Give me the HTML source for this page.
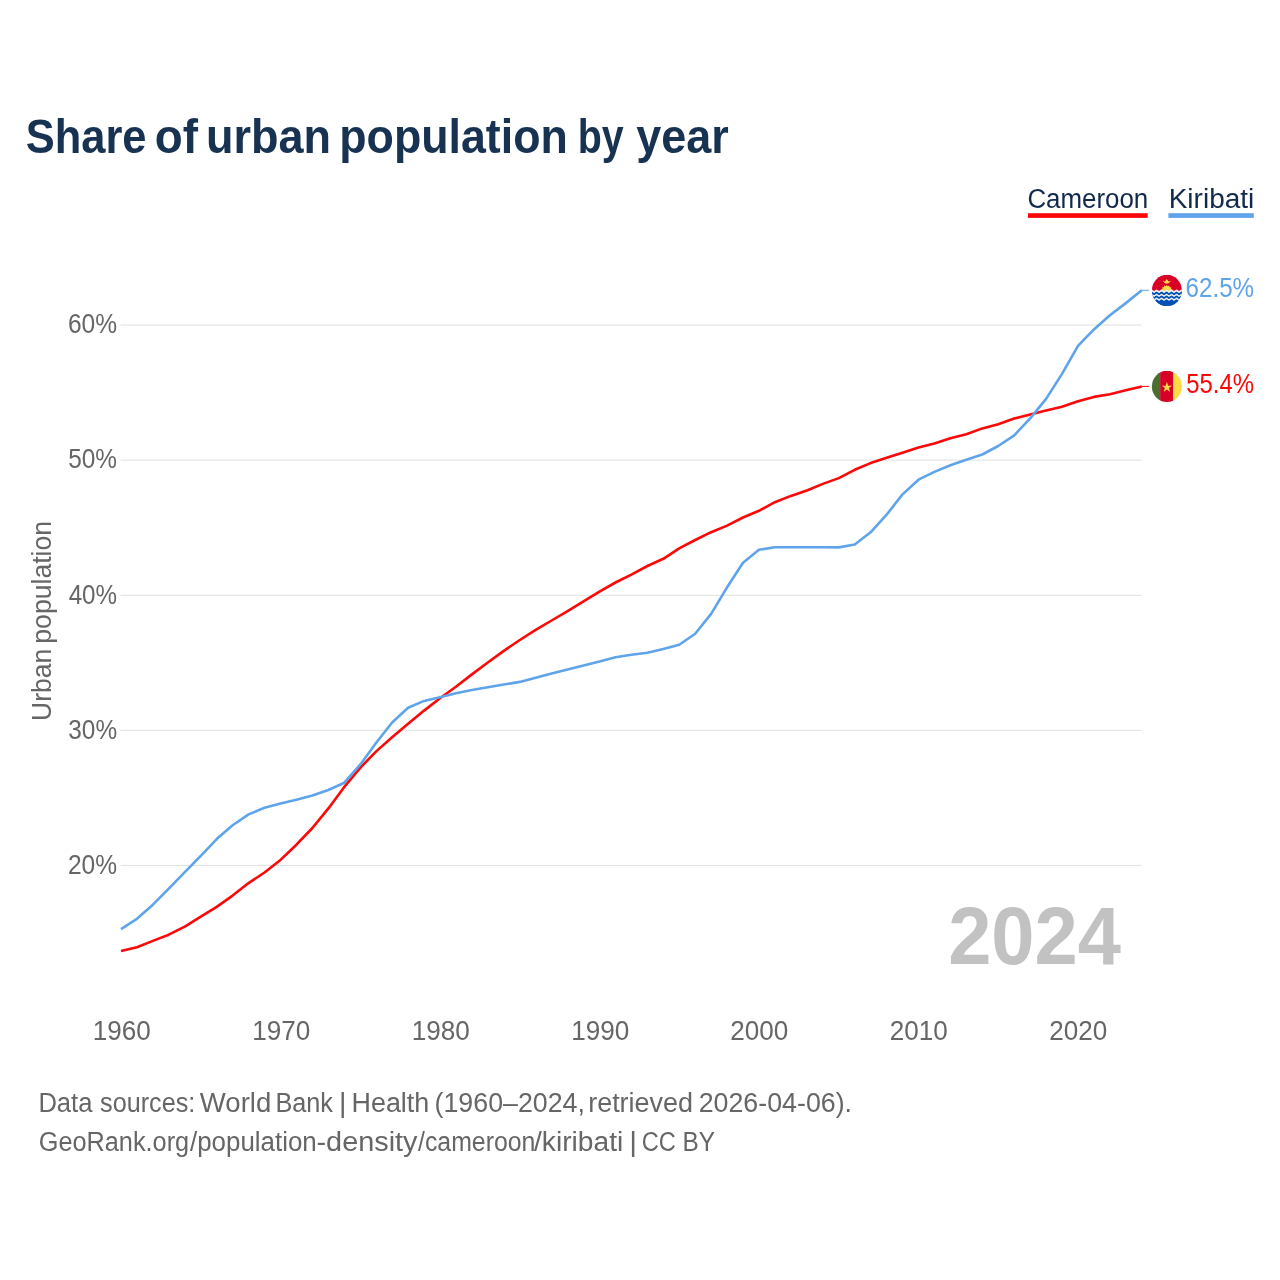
<!DOCTYPE html>
<html lang="en">
<head>
<meta charset="utf-8">
<title>Share of urban population by year</title>
<style>
html,body{margin:0;padding:0;background:#fff;}
body{width:1280px;height:1280px;overflow:hidden;}
svg{display:block;font-family:"Liberation Sans",sans-serif;}
</style>
</head>
<body>
<svg width="1280" height="1280" viewBox="0 0 1280 1280">
<rect width="1280" height="1280" fill="#fff"/>
<text font-size="48" font-weight="bold" fill="#183252"><tspan x="25.70" y="153.00" textLength="120.80" lengthAdjust="spacingAndGlyphs">Share</tspan> <tspan x="154.77" y="153.00" textLength="43.18" lengthAdjust="spacingAndGlyphs">of</tspan> <tspan x="205.94" y="153.00" textLength="125.00" lengthAdjust="spacingAndGlyphs">urban</tspan> <tspan x="339.29" y="153.00" textLength="228.50" lengthAdjust="spacingAndGlyphs">population</tspan> <tspan x="577.74" y="153.00" textLength="45.94" lengthAdjust="spacingAndGlyphs">by</tspan> <tspan x="636.26" y="153.00" textLength="92.52" lengthAdjust="spacingAndGlyphs">year</tspan></text>
<text font-size="27" fill="#112a4c"><tspan x="1027.41" y="208.00" textLength="120.85" lengthAdjust="spacingAndGlyphs">Cameroon</tspan></text>
<rect x="1028" y="213.2" width="119.7" height="4.7" fill="#fb0808"/>
<text font-size="27" fill="#112a4c"><tspan x="1168.69" y="208.00" textLength="85.58" lengthAdjust="spacingAndGlyphs">Kiribati</tspan></text>
<rect x="1168.4" y="213.2" width="85.4" height="4.7" fill="#5fa4ea"/>
<line x1="120.5" x2="1141.5" y1="325.0" y2="325.0" stroke="#e0e0e0" stroke-width="1"/>
<line x1="120.5" x2="1141.5" y1="460.1" y2="460.1" stroke="#e0e0e0" stroke-width="1"/>
<line x1="120.5" x2="1141.5" y1="595.3" y2="595.3" stroke="#e0e0e0" stroke-width="1"/>
<line x1="120.5" x2="1141.5" y1="730.3" y2="730.3" stroke="#e0e0e0" stroke-width="1"/>
<line x1="120.5" x2="1141.5" y1="865.4" y2="865.4" stroke="#e0e0e0" stroke-width="1"/>
<text font-size="27" fill="#666666"><tspan x="67.97" y="333.00" textLength="49.12" lengthAdjust="spacingAndGlyphs">60%</tspan></text>
<text font-size="27" fill="#666666"><tspan x="68.22" y="468.25" textLength="48.87" lengthAdjust="spacingAndGlyphs">50%</tspan></text>
<text font-size="27" fill="#666666"><tspan x="68.66" y="603.50" textLength="48.43" lengthAdjust="spacingAndGlyphs">40%</tspan></text>
<text font-size="27" fill="#666666"><tspan x="68.29" y="738.75" textLength="48.81" lengthAdjust="spacingAndGlyphs">30%</tspan></text>
<text font-size="27" fill="#666666"><tspan x="67.97" y="874.00" textLength="49.12" lengthAdjust="spacingAndGlyphs">20%</tspan></text>
<text font-size="27" fill="#666666"><tspan x="92.64" y="1040.00" textLength="58.09" lengthAdjust="spacingAndGlyphs">1960</tspan></text>
<text font-size="27" fill="#666666"><tspan x="252.14" y="1040.00" textLength="58.09" lengthAdjust="spacingAndGlyphs">1970</tspan></text>
<text font-size="27" fill="#666666"><tspan x="411.64" y="1040.00" textLength="58.09" lengthAdjust="spacingAndGlyphs">1980</tspan></text>
<text font-size="27" fill="#666666"><tspan x="571.14" y="1040.00" textLength="58.09" lengthAdjust="spacingAndGlyphs">1990</tspan></text>
<text font-size="27" fill="#666666"><tspan x="730.30" y="1040.00" textLength="58.04" lengthAdjust="spacingAndGlyphs">2000</tspan></text>
<text font-size="27" fill="#666666"><tspan x="889.80" y="1040.00" textLength="58.04" lengthAdjust="spacingAndGlyphs">2010</tspan></text>
<text font-size="27" fill="#666666"><tspan x="1049.30" y="1040.00" textLength="58.04" lengthAdjust="spacingAndGlyphs">2020</tspan></text>
<text font-size="27" fill="#666666" transform="translate(50.8,719.2) rotate(-90)"><tspan x="-1.75" y="0.00" textLength="72.11" lengthAdjust="spacingAndGlyphs">Urban</tspan> <tspan x="75.47" y="0.00" textLength="122.87" lengthAdjust="spacingAndGlyphs">population</tspan></text>
<text font-size="81" font-weight="bold" fill="#c2c2c2"><tspan x="948.18" y="963.70" textLength="172.78" lengthAdjust="spacingAndGlyphs">2024</tspan></text>
<polyline fill="none" stroke="#fb0808" stroke-width="2.6" stroke-linejoin="round" points="121.0,950.9 136.9,947.2 152.9,940.9 168.8,934.7 184.8,926.6 200.8,916.7 216.7,906.9 232.6,895.6 248.6,883.1 264.5,872.5 280.5,859.9 296.4,844.7 312.4,828.0 328.4,808.4 344.3,786.9 360.2,767.8 376.2,751.4 392.1,737.3 408.1,723.8 424.1,710.6 440.0,698.2 455.9,686.7 471.9,674.4 487.8,662.5 503.8,650.9 519.8,640.0 535.7,629.8 551.6,620.5 567.6,611.1 583.5,601.4 599.5,591.6 615.5,582.5 631.4,574.7 647.4,566.0 663.3,558.8 679.2,548.3 695.2,540.0 711.1,532.2 727.1,525.6 743.0,517.5 759.0,510.8 774.9,502.2 790.9,495.9 806.9,490.5 822.8,483.9 838.8,478.1 854.7,469.8 870.6,463.1 886.6,457.8 902.5,452.7 918.5,447.5 934.4,443.6 950.4,438.3 966.3,434.2 982.3,428.4 998.2,424.2 1014.2,418.6 1030.2,414.5 1046.1,410.6 1062.0,406.7 1078.0,401.3 1093.9,396.9 1109.9,394.2 1125.8,390.3 1141.8,386.4"/>
<polyline fill="none" stroke="#5fa4ea" stroke-width="2.6" stroke-linejoin="round" points="121.0,929.2 136.9,918.8 152.9,904.7 168.8,888.6 184.8,872.2 200.8,855.8 216.7,839.1 232.6,825.3 248.6,814.4 264.5,807.8 280.5,803.6 296.4,799.7 312.4,795.6 328.4,790.0 344.3,782.7 360.2,764.7 376.2,742.8 392.1,722.5 408.1,707.7 424.1,700.9 440.0,697.2 455.9,693.3 471.9,690.1 487.8,687.2 503.8,684.5 519.8,681.9 535.7,677.8 551.6,673.6 567.6,669.4 583.5,665.5 599.5,661.6 615.5,657.2 631.4,654.8 647.4,652.8 663.3,649.1 679.2,644.7 695.2,633.8 711.1,613.9 727.1,587.3 743.0,562.8 759.0,549.8 774.9,547.2 790.9,547.2 806.9,547.2 822.8,547.3 838.8,547.4 854.7,544.5 870.6,532.3 886.6,514.7 902.5,494.4 918.5,479.7 934.4,471.9 950.4,465.2 966.3,459.7 982.3,454.5 998.2,446.0 1014.2,435.3 1030.2,418.4 1046.1,398.9 1062.0,373.9 1078.0,345.8 1093.9,329.4 1109.9,315.3 1125.8,303.1 1141.8,290.3"/>
<line x1="1141.5" x2="1149" y1="290.3" y2="290.3" stroke="#5fa4ea" stroke-width="1"/>
<line x1="1141.5" x2="1149" y1="386.4" y2="386.4" stroke="#fb0808" stroke-width="1"/>
<g transform="translate(1151.90,274.85) scale(0.05859,0.06094)"><clipPath id="kc"><circle cx="256" cy="256" r="256"/></clipPath><g clip-path="url(#kc)"><rect y="280" width="512" height="232" fill="#0052b4"/><rect width="512" height="280" fill="#d80027"/><path fill="#ffda44" d="M253.0 166.0 L270.8 188.0 L296.4 175.9 L302.9 203.5 L331.2 203.7 L325.1 231.3 L350.5 243.7 L333.0 266.0 L350.5 288.3 L325.1 300.7 L331.2 328.3 L302.9 328.5 L296.4 356.1 L270.8 344.0 L253.0 366.0 L235.2 344.0 L209.6 356.1 L203.1 328.5 L174.8 328.3 L180.9 300.7 L155.5 288.3 L173.0 266.0 L155.5 243.7 L180.9 231.3 L174.8 203.7 L203.1 203.5 L209.6 175.9 L235.2 188.0Z"/><path fill="#ffda44" d="M186 96l38 12 12-14 18-24 18 24 12 14 42-12-26 28-24 18h-44l-24-18z"/><path fill="#f0f0f0" d="M-20 246.4 L-16 243.9 L-12 242.1 L-8 241.1 L-4 241.1 L0 242.0 L4 243.8 L8 246.3 L12 249.3 L16 252.5 L20 255.6 L24 258.5 L28 260.8 L32 262.3 L36 263.0 L40 262.7 L44 261.5 L48 259.4 L52 256.8 L56 253.7 L60 250.4 L64 247.4 L68 244.7 L72 242.6 L76 241.3 L80 241.0 L84 241.6 L88 243.1 L92 245.4 L96 248.2 L100 251.4 L104 254.6 L108 257.6 L112 260.1 L116 261.9 L120 262.9 L124 262.9 L128 262.0 L132 260.2 L136 257.7 L140 254.7 L144 251.5 L148 248.3 L152 245.5 L156 243.2 L160 241.7 L164 241.0 L168 241.3 L172 242.6 L176 244.6 L180 247.3 L184 250.4 L188 253.6 L192 256.7 L196 259.4 L200 261.4 L204 262.7 L208 263.0 L212 262.4 L216 260.8 L220 258.6 L224 255.7 L228 252.5 L232 249.3 L236 246.3 L240 243.9 L244 242.1 L248 241.1 L252 241.1 L256 242.1 L260 243.9 L264 246.3 L268 249.3 L272 252.5 L276 255.7 L280 258.6 L284 260.8 L288 262.4 L292 263.0 L296 262.7 L300 261.4 L304 259.4 L308 256.7 L312 253.6 L316 250.4 L320 247.3 L324 244.6 L328 242.6 L332 241.3 L336 241.0 L340 241.7 L344 243.2 L348 245.5 L352 248.3 L356 251.5 L360 254.7 L364 257.7 L368 260.2 L372 262.0 L376 262.9 L380 262.9 L384 261.9 L388 260.1 L392 257.6 L396 254.6 L400 251.4 L404 248.2 L408 245.4 L412 243.1 L416 241.6 L420 241.0 L424 241.3 L428 242.6 L432 244.7 L436 247.4 L440 250.4 L444 253.7 L448 256.8 L452 259.4 L456 261.5 L460 262.7 L464 263.0 L468 262.3 L472 260.8 L476 258.5 L480 255.6 L484 252.5 L488 249.3 L492 246.3 L496 243.8 L500 242.0 L504 241.1 L508 241.1 L512 242.1 L516 243.9 L520 246.4 L524 249.4 L528 252.6 L532 255.8 L532 303.8 L528 300.6 L524 297.4 L520 294.4 L516 291.9 L512 290.1 L508 289.1 L504 289.1 L500 290.0 L496 291.8 L492 294.3 L488 297.3 L484 300.5 L480 303.6 L476 306.5 L472 308.8 L468 310.3 L464 311.0 L460 310.7 L456 309.5 L452 307.4 L448 304.8 L444 301.7 L440 298.4 L436 295.4 L432 292.7 L428 290.6 L424 289.3 L420 289.0 L416 289.6 L412 291.1 L408 293.4 L404 296.2 L400 299.4 L396 302.6 L392 305.6 L388 308.1 L384 309.9 L380 310.9 L376 310.9 L372 310.0 L368 308.2 L364 305.7 L360 302.7 L356 299.5 L352 296.3 L348 293.5 L344 291.2 L340 289.7 L336 289.0 L332 289.3 L328 290.6 L324 292.6 L320 295.3 L316 298.4 L312 301.6 L308 304.7 L304 307.4 L300 309.4 L296 310.7 L292 311.0 L288 310.4 L284 308.8 L280 306.6 L276 303.7 L272 300.5 L268 297.3 L264 294.3 L260 291.9 L256 290.1 L252 289.1 L248 289.1 L244 290.1 L240 291.9 L236 294.3 L232 297.3 L228 300.5 L224 303.7 L220 306.6 L216 308.8 L212 310.4 L208 311.0 L204 310.7 L200 309.4 L196 307.4 L192 304.7 L188 301.6 L184 298.4 L180 295.3 L176 292.6 L172 290.6 L168 289.3 L164 289.0 L160 289.7 L156 291.2 L152 293.5 L148 296.3 L144 299.5 L140 302.7 L136 305.7 L132 308.2 L128 310.0 L124 310.9 L120 310.9 L116 309.9 L112 308.1 L108 305.6 L104 302.6 L100 299.4 L96 296.2 L92 293.4 L88 291.1 L84 289.6 L80 289.0 L76 289.3 L72 290.6 L68 292.7 L64 295.4 L60 298.4 L56 301.7 L52 304.8 L48 307.4 L44 309.5 L40 310.7 L36 311.0 L32 310.3 L28 308.8 L24 306.5 L20 303.6 L16 300.5 L12 297.3 L8 294.3 L4 291.8 L0 290.0 L-4 289.1 L-8 289.1 L-12 290.1 L-16 291.9 L-20 294.4Z"/><path fill="#f0f0f0" d="M-20 304.4 L-16 301.9 L-12 300.1 L-8 299.1 L-4 299.1 L0 300.0 L4 301.8 L8 304.3 L12 307.3 L16 310.5 L20 313.6 L24 316.5 L28 318.8 L32 320.3 L36 321.0 L40 320.7 L44 319.5 L48 317.4 L52 314.8 L56 311.7 L60 308.4 L64 305.4 L68 302.7 L72 300.6 L76 299.3 L80 299.0 L84 299.6 L88 301.1 L92 303.4 L96 306.2 L100 309.4 L104 312.6 L108 315.6 L112 318.1 L116 319.9 L120 320.9 L124 320.9 L128 320.0 L132 318.2 L136 315.7 L140 312.7 L144 309.5 L148 306.3 L152 303.5 L156 301.2 L160 299.7 L164 299.0 L168 299.3 L172 300.6 L176 302.6 L180 305.3 L184 308.4 L188 311.6 L192 314.7 L196 317.4 L200 319.4 L204 320.7 L208 321.0 L212 320.4 L216 318.8 L220 316.6 L224 313.7 L228 310.5 L232 307.3 L236 304.3 L240 301.9 L244 300.1 L248 299.1 L252 299.1 L256 300.1 L260 301.9 L264 304.3 L268 307.3 L272 310.5 L276 313.7 L280 316.6 L284 318.8 L288 320.4 L292 321.0 L296 320.7 L300 319.4 L304 317.4 L308 314.7 L312 311.6 L316 308.4 L320 305.3 L324 302.6 L328 300.6 L332 299.3 L336 299.0 L340 299.7 L344 301.2 L348 303.5 L352 306.3 L356 309.5 L360 312.7 L364 315.7 L368 318.2 L372 320.0 L376 320.9 L380 320.9 L384 319.9 L388 318.1 L392 315.6 L396 312.6 L400 309.4 L404 306.2 L408 303.4 L412 301.1 L416 299.6 L420 299.0 L424 299.3 L428 300.6 L432 302.7 L436 305.4 L440 308.4 L444 311.7 L448 314.8 L452 317.4 L456 319.5 L460 320.7 L464 321.0 L468 320.3 L472 318.8 L476 316.5 L480 313.6 L484 310.5 L488 307.3 L492 304.3 L496 301.8 L500 300.0 L504 299.1 L508 299.1 L512 300.1 L516 301.9 L520 304.4 L524 307.4 L528 310.6 L532 313.8 L532 363.8 L528 360.6 L524 357.4 L520 354.4 L516 351.9 L512 350.1 L508 349.1 L504 349.1 L500 350.0 L496 351.8 L492 354.3 L488 357.3 L484 360.5 L480 363.6 L476 366.5 L472 368.8 L468 370.3 L464 371.0 L460 370.7 L456 369.5 L452 367.4 L448 364.8 L444 361.7 L440 358.4 L436 355.4 L432 352.7 L428 350.6 L424 349.3 L420 349.0 L416 349.6 L412 351.1 L408 353.4 L404 356.2 L400 359.4 L396 362.6 L392 365.6 L388 368.1 L384 369.9 L380 370.9 L376 370.9 L372 370.0 L368 368.2 L364 365.7 L360 362.7 L356 359.5 L352 356.3 L348 353.5 L344 351.2 L340 349.7 L336 349.0 L332 349.3 L328 350.6 L324 352.6 L320 355.3 L316 358.4 L312 361.6 L308 364.7 L304 367.4 L300 369.4 L296 370.7 L292 371.0 L288 370.4 L284 368.8 L280 366.6 L276 363.7 L272 360.5 L268 357.3 L264 354.3 L260 351.9 L256 350.1 L252 349.1 L248 349.1 L244 350.1 L240 351.9 L236 354.3 L232 357.3 L228 360.5 L224 363.7 L220 366.6 L216 368.8 L212 370.4 L208 371.0 L204 370.7 L200 369.4 L196 367.4 L192 364.7 L188 361.6 L184 358.4 L180 355.3 L176 352.6 L172 350.6 L168 349.3 L164 349.0 L160 349.7 L156 351.2 L152 353.5 L148 356.3 L144 359.5 L140 362.7 L136 365.7 L132 368.2 L128 370.0 L124 370.9 L120 370.9 L116 369.9 L112 368.1 L108 365.6 L104 362.6 L100 359.4 L96 356.2 L92 353.4 L88 351.1 L84 349.6 L80 349.0 L76 349.3 L72 350.6 L68 352.7 L64 355.4 L60 358.4 L56 361.7 L52 364.8 L48 367.4 L44 369.5 L40 370.7 L36 371.0 L32 370.3 L28 368.8 L24 366.5 L20 363.6 L16 360.5 L12 357.3 L8 354.3 L4 351.8 L0 350.0 L-4 349.1 L-8 349.1 L-12 350.1 L-16 351.9 L-20 354.4Z"/><path fill="#f0f0f0" d="M-20 364.4 L-16 361.9 L-12 360.1 L-8 359.1 L-4 359.1 L0 360.0 L4 361.8 L8 364.3 L12 367.3 L16 370.5 L20 373.6 L24 376.5 L28 378.8 L32 380.3 L36 381.0 L40 380.7 L44 379.5 L48 377.4 L52 374.8 L56 371.7 L60 368.4 L64 365.4 L68 362.7 L72 360.6 L76 359.3 L80 359.0 L84 359.6 L88 361.1 L92 363.4 L96 366.2 L100 369.4 L104 372.6 L108 375.6 L112 378.1 L116 379.9 L120 380.9 L124 380.9 L128 380.0 L132 378.2 L136 375.7 L140 372.7 L144 369.5 L148 366.3 L152 363.5 L156 361.2 L160 359.7 L164 359.0 L168 359.3 L172 360.6 L176 362.6 L180 365.3 L184 368.4 L188 371.6 L192 374.7 L196 377.4 L200 379.4 L204 380.7 L208 381.0 L212 380.4 L216 378.8 L220 376.6 L224 373.7 L228 370.5 L232 367.3 L236 364.3 L240 361.9 L244 360.1 L248 359.1 L252 359.1 L256 360.1 L260 361.9 L264 364.3 L268 367.3 L272 370.5 L276 373.7 L280 376.6 L284 378.8 L288 380.4 L292 381.0 L296 380.7 L300 379.4 L304 377.4 L308 374.7 L312 371.6 L316 368.4 L320 365.3 L324 362.6 L328 360.6 L332 359.3 L336 359.0 L340 359.7 L344 361.2 L348 363.5 L352 366.3 L356 369.5 L360 372.7 L364 375.7 L368 378.2 L372 380.0 L376 380.9 L380 380.9 L384 379.9 L388 378.1 L392 375.6 L396 372.6 L400 369.4 L404 366.2 L408 363.4 L412 361.1 L416 359.6 L420 359.0 L424 359.3 L428 360.6 L432 362.7 L436 365.4 L440 368.4 L444 371.7 L448 374.8 L452 377.4 L456 379.5 L460 380.7 L464 381.0 L468 380.3 L472 378.8 L476 376.5 L480 373.6 L484 370.5 L488 367.3 L492 364.3 L496 361.8 L500 360.0 L504 359.1 L508 359.1 L512 360.1 L516 361.9 L520 364.4 L524 367.4 L528 370.6 L532 373.8 L532 423.8 L528 420.6 L524 417.4 L520 414.4 L516 411.9 L512 410.1 L508 409.1 L504 409.1 L500 410.0 L496 411.8 L492 414.3 L488 417.3 L484 420.5 L480 423.6 L476 426.5 L472 428.8 L468 430.3 L464 431.0 L460 430.7 L456 429.5 L452 427.4 L448 424.8 L444 421.7 L440 418.4 L436 415.4 L432 412.7 L428 410.6 L424 409.3 L420 409.0 L416 409.6 L412 411.1 L408 413.4 L404 416.2 L400 419.4 L396 422.6 L392 425.6 L388 428.1 L384 429.9 L380 430.9 L376 430.9 L372 430.0 L368 428.2 L364 425.7 L360 422.7 L356 419.5 L352 416.3 L348 413.5 L344 411.2 L340 409.7 L336 409.0 L332 409.3 L328 410.6 L324 412.6 L320 415.3 L316 418.4 L312 421.6 L308 424.7 L304 427.4 L300 429.4 L296 430.7 L292 431.0 L288 430.4 L284 428.8 L280 426.6 L276 423.7 L272 420.5 L268 417.3 L264 414.3 L260 411.9 L256 410.1 L252 409.1 L248 409.1 L244 410.1 L240 411.9 L236 414.3 L232 417.3 L228 420.5 L224 423.7 L220 426.6 L216 428.8 L212 430.4 L208 431.0 L204 430.7 L200 429.4 L196 427.4 L192 424.7 L188 421.6 L184 418.4 L180 415.3 L176 412.6 L172 410.6 L168 409.3 L164 409.0 L160 409.7 L156 411.2 L152 413.5 L148 416.3 L144 419.5 L140 422.7 L136 425.7 L132 428.2 L128 430.0 L124 430.9 L120 430.9 L116 429.9 L112 428.1 L108 425.6 L104 422.6 L100 419.4 L96 416.2 L92 413.4 L88 411.1 L84 409.6 L80 409.0 L76 409.3 L72 410.6 L68 412.7 L64 415.4 L60 418.4 L56 421.7 L52 424.8 L48 427.4 L44 429.5 L40 430.7 L36 431.0 L32 430.3 L28 428.8 L24 426.5 L20 423.6 L16 420.5 L12 417.3 L8 414.3 L4 411.8 L0 410.0 L-4 409.1 L-8 409.1 L-12 410.1 L-16 411.9 L-20 414.4Z"/><path fill="#0052b4" d="M-20 280.4 L-16 277.9 L-12 276.1 L-8 275.1 L-4 275.1 L0 276.0 L4 277.8 L8 280.3 L12 283.3 L16 286.5 L20 289.6 L24 292.5 L28 294.8 L32 296.3 L36 297.0 L40 296.7 L44 295.5 L48 293.4 L52 290.8 L56 287.7 L60 284.4 L64 281.4 L68 278.7 L72 276.6 L76 275.3 L80 275.0 L84 275.6 L88 277.1 L92 279.4 L96 282.2 L100 285.4 L104 288.6 L108 291.6 L112 294.1 L116 295.9 L120 296.9 L124 296.9 L128 296.0 L132 294.2 L136 291.7 L140 288.7 L144 285.5 L148 282.3 L152 279.5 L156 277.2 L160 275.7 L164 275.0 L168 275.3 L172 276.6 L176 278.6 L180 281.3 L184 284.4 L188 287.6 L192 290.7 L196 293.4 L200 295.4 L204 296.7 L208 297.0 L212 296.4 L216 294.8 L220 292.6 L224 289.7 L228 286.5 L232 283.3 L236 280.3 L240 277.9 L244 276.1 L248 275.1 L252 275.1 L256 276.1 L260 277.9 L264 280.3 L268 283.3 L272 286.5 L276 289.7 L280 292.6 L284 294.8 L288 296.4 L292 297.0 L296 296.7 L300 295.4 L304 293.4 L308 290.7 L312 287.6 L316 284.4 L320 281.3 L324 278.6 L328 276.6 L332 275.3 L336 275.0 L340 275.7 L344 277.2 L348 279.5 L352 282.3 L356 285.5 L360 288.7 L364 291.7 L368 294.2 L372 296.0 L376 296.9 L380 296.9 L384 295.9 L388 294.1 L392 291.6 L396 288.6 L400 285.4 L404 282.2 L408 279.4 L412 277.1 L416 275.6 L420 275.0 L424 275.3 L428 276.6 L432 278.7 L436 281.4 L440 284.4 L444 287.7 L448 290.8 L452 293.4 L456 295.5 L460 296.7 L464 297.0 L468 296.3 L472 294.8 L476 292.5 L480 289.6 L484 286.5 L488 283.3 L492 280.3 L496 277.8 L500 276.0 L504 275.1 L508 275.1 L512 276.1 L516 277.9 L520 280.4 L524 283.4 L528 286.6 L532 289.8 L532 325.8 L528 322.6 L524 319.4 L520 316.4 L516 313.9 L512 312.1 L508 311.1 L504 311.1 L500 312.0 L496 313.8 L492 316.3 L488 319.3 L484 322.5 L480 325.6 L476 328.5 L472 330.8 L468 332.3 L464 333.0 L460 332.7 L456 331.5 L452 329.4 L448 326.8 L444 323.7 L440 320.4 L436 317.4 L432 314.7 L428 312.6 L424 311.3 L420 311.0 L416 311.6 L412 313.1 L408 315.4 L404 318.2 L400 321.4 L396 324.6 L392 327.6 L388 330.1 L384 331.9 L380 332.9 L376 332.9 L372 332.0 L368 330.2 L364 327.7 L360 324.7 L356 321.5 L352 318.3 L348 315.5 L344 313.2 L340 311.7 L336 311.0 L332 311.3 L328 312.6 L324 314.6 L320 317.3 L316 320.4 L312 323.6 L308 326.7 L304 329.4 L300 331.4 L296 332.7 L292 333.0 L288 332.4 L284 330.8 L280 328.6 L276 325.7 L272 322.5 L268 319.3 L264 316.3 L260 313.9 L256 312.1 L252 311.1 L248 311.1 L244 312.1 L240 313.9 L236 316.3 L232 319.3 L228 322.5 L224 325.7 L220 328.6 L216 330.8 L212 332.4 L208 333.0 L204 332.7 L200 331.4 L196 329.4 L192 326.7 L188 323.6 L184 320.4 L180 317.3 L176 314.6 L172 312.6 L168 311.3 L164 311.0 L160 311.7 L156 313.2 L152 315.5 L148 318.3 L144 321.5 L140 324.7 L136 327.7 L132 330.2 L128 332.0 L124 332.9 L120 332.9 L116 331.9 L112 330.1 L108 327.6 L104 324.6 L100 321.4 L96 318.2 L92 315.4 L88 313.1 L84 311.6 L80 311.0 L76 311.3 L72 312.6 L68 314.7 L64 317.4 L60 320.4 L56 323.7 L52 326.8 L48 329.4 L44 331.5 L40 332.7 L36 333.0 L32 332.3 L28 330.8 L24 328.5 L20 325.6 L16 322.5 L12 319.3 L8 316.3 L4 313.8 L0 312.0 L-4 311.1 L-8 311.1 L-12 312.1 L-16 313.9 L-20 316.4Z"/><path fill="#0052b4" d="M-20 344.4 L-16 341.9 L-12 340.1 L-8 339.1 L-4 339.1 L0 340.0 L4 341.8 L8 344.3 L12 347.3 L16 350.5 L20 353.6 L24 356.5 L28 358.8 L32 360.3 L36 361.0 L40 360.7 L44 359.5 L48 357.4 L52 354.8 L56 351.7 L60 348.4 L64 345.4 L68 342.7 L72 340.6 L76 339.3 L80 339.0 L84 339.6 L88 341.1 L92 343.4 L96 346.2 L100 349.4 L104 352.6 L108 355.6 L112 358.1 L116 359.9 L120 360.9 L124 360.9 L128 360.0 L132 358.2 L136 355.7 L140 352.7 L144 349.5 L148 346.3 L152 343.5 L156 341.2 L160 339.7 L164 339.0 L168 339.3 L172 340.6 L176 342.6 L180 345.3 L184 348.4 L188 351.6 L192 354.7 L196 357.4 L200 359.4 L204 360.7 L208 361.0 L212 360.4 L216 358.8 L220 356.6 L224 353.7 L228 350.5 L232 347.3 L236 344.3 L240 341.9 L244 340.1 L248 339.1 L252 339.1 L256 340.1 L260 341.9 L264 344.3 L268 347.3 L272 350.5 L276 353.7 L280 356.6 L284 358.8 L288 360.4 L292 361.0 L296 360.7 L300 359.4 L304 357.4 L308 354.7 L312 351.6 L316 348.4 L320 345.3 L324 342.6 L328 340.6 L332 339.3 L336 339.0 L340 339.7 L344 341.2 L348 343.5 L352 346.3 L356 349.5 L360 352.7 L364 355.7 L368 358.2 L372 360.0 L376 360.9 L380 360.9 L384 359.9 L388 358.1 L392 355.6 L396 352.6 L400 349.4 L404 346.2 L408 343.4 L412 341.1 L416 339.6 L420 339.0 L424 339.3 L428 340.6 L432 342.7 L436 345.4 L440 348.4 L444 351.7 L448 354.8 L452 357.4 L456 359.5 L460 360.7 L464 361.0 L468 360.3 L472 358.8 L476 356.5 L480 353.6 L484 350.5 L488 347.3 L492 344.3 L496 341.8 L500 340.0 L504 339.1 L508 339.1 L512 340.1 L516 341.9 L520 344.4 L524 347.4 L528 350.6 L532 353.8 L532 387.8 L528 384.6 L524 381.4 L520 378.4 L516 375.9 L512 374.1 L508 373.1 L504 373.1 L500 374.0 L496 375.8 L492 378.3 L488 381.3 L484 384.5 L480 387.6 L476 390.5 L472 392.8 L468 394.3 L464 395.0 L460 394.7 L456 393.5 L452 391.4 L448 388.8 L444 385.7 L440 382.4 L436 379.4 L432 376.7 L428 374.6 L424 373.3 L420 373.0 L416 373.6 L412 375.1 L408 377.4 L404 380.2 L400 383.4 L396 386.6 L392 389.6 L388 392.1 L384 393.9 L380 394.9 L376 394.9 L372 394.0 L368 392.2 L364 389.7 L360 386.7 L356 383.5 L352 380.3 L348 377.5 L344 375.2 L340 373.7 L336 373.0 L332 373.3 L328 374.6 L324 376.6 L320 379.3 L316 382.4 L312 385.6 L308 388.7 L304 391.4 L300 393.4 L296 394.7 L292 395.0 L288 394.4 L284 392.8 L280 390.6 L276 387.7 L272 384.5 L268 381.3 L264 378.3 L260 375.9 L256 374.1 L252 373.1 L248 373.1 L244 374.1 L240 375.9 L236 378.3 L232 381.3 L228 384.5 L224 387.7 L220 390.6 L216 392.8 L212 394.4 L208 395.0 L204 394.7 L200 393.4 L196 391.4 L192 388.7 L188 385.6 L184 382.4 L180 379.3 L176 376.6 L172 374.6 L168 373.3 L164 373.0 L160 373.7 L156 375.2 L152 377.5 L148 380.3 L144 383.5 L140 386.7 L136 389.7 L132 392.2 L128 394.0 L124 394.9 L120 394.9 L116 393.9 L112 392.1 L108 389.6 L104 386.6 L100 383.4 L96 380.2 L92 377.4 L88 375.1 L84 373.6 L80 373.0 L76 373.3 L72 374.6 L68 376.7 L64 379.4 L60 382.4 L56 385.7 L52 388.8 L48 391.4 L44 393.5 L40 394.7 L36 395.0 L32 394.3 L28 392.8 L24 390.5 L20 387.6 L16 384.5 L12 381.3 L8 378.3 L4 375.8 L0 374.0 L-4 373.1 L-8 373.1 L-12 374.1 L-16 375.9 L-20 378.4Z"/><path fill="#0052b4" d="M-20 408.4 L-16 405.9 L-12 404.1 L-8 403.1 L-4 403.1 L0 404.0 L4 405.8 L8 408.3 L12 411.3 L16 414.5 L20 417.6 L24 420.5 L28 422.8 L32 424.3 L36 425.0 L40 424.7 L44 423.5 L48 421.4 L52 418.8 L56 415.7 L60 412.4 L64 409.4 L68 406.7 L72 404.6 L76 403.3 L80 403.0 L84 403.6 L88 405.1 L92 407.4 L96 410.2 L100 413.4 L104 416.6 L108 419.6 L112 422.1 L116 423.9 L120 424.9 L124 424.9 L128 424.0 L132 422.2 L136 419.7 L140 416.7 L144 413.5 L148 410.3 L152 407.5 L156 405.2 L160 403.7 L164 403.0 L168 403.3 L172 404.6 L176 406.6 L180 409.3 L184 412.4 L188 415.6 L192 418.7 L196 421.4 L200 423.4 L204 424.7 L208 425.0 L212 424.4 L216 422.8 L220 420.6 L224 417.7 L228 414.5 L232 411.3 L236 408.3 L240 405.9 L244 404.1 L248 403.1 L252 403.1 L256 404.1 L260 405.9 L264 408.3 L268 411.3 L272 414.5 L276 417.7 L280 420.6 L284 422.8 L288 424.4 L292 425.0 L296 424.7 L300 423.4 L304 421.4 L308 418.7 L312 415.6 L316 412.4 L320 409.3 L324 406.6 L328 404.6 L332 403.3 L336 403.0 L340 403.7 L344 405.2 L348 407.5 L352 410.3 L356 413.5 L360 416.7 L364 419.7 L368 422.2 L372 424.0 L376 424.9 L380 424.9 L384 423.9 L388 422.1 L392 419.6 L396 416.6 L400 413.4 L404 410.2 L408 407.4 L412 405.1 L416 403.6 L420 403.0 L424 403.3 L428 404.6 L432 406.7 L436 409.4 L440 412.4 L444 415.7 L448 418.8 L452 421.4 L456 423.5 L460 424.7 L464 425.0 L468 424.3 L472 422.8 L476 420.5 L480 417.6 L484 414.5 L488 411.3 L492 408.3 L496 405.8 L500 404.0 L504 403.1 L508 403.1 L512 404.1 L516 405.9 L520 408.4 L524 411.4 L528 414.6 L532 417.8 L532 600.0 L-20 600.0Z"/></g></g>
<g transform="translate(1151.90,370.85) scale(0.05859,0.06094)"><clipPath id="cc"><circle cx="256" cy="256" r="256"/></clipPath><g clip-path="url(#cc)"><rect x="140" width="222" height="512" fill="#d80027"/><rect width="140" height="512" fill="#496e2d"/><rect x="362" width="150" height="512" fill="#ffda44"/><path fill="#ffda44" d="M256.0 180.0 L277.2 242.9 L343.5 243.6 L290.2 283.1 L310.1 346.4 L256.0 308.0 L201.9 346.4 L221.8 283.1 L168.5 243.6 L234.8 242.9Z"/></g></g>
<text font-size="27" fill="#5fa4ea"><tspan x="1185.59" y="296.60" textLength="68.46" lengthAdjust="spacingAndGlyphs">62.5%</tspan></text>
<text font-size="27" fill="#fb0808"><tspan x="1186.24" y="392.60" textLength="67.80" lengthAdjust="spacingAndGlyphs">55.4%</tspan></text>
<text font-size="27" fill="#666666"><tspan x="38.39" y="1112.00" textLength="54.11" lengthAdjust="spacingAndGlyphs">Data</tspan> <tspan x="100.06" y="1112.00" textLength="95.26" lengthAdjust="spacingAndGlyphs">sources:</tspan> <tspan x="199.86" y="1112.00" textLength="71.45" lengthAdjust="spacingAndGlyphs">World</tspan> <tspan x="275.42" y="1112.00" textLength="57.57" lengthAdjust="spacingAndGlyphs">Bank</tspan> <tspan x="339.01" y="1112.00" textLength="7.47" lengthAdjust="spacingAndGlyphs">|</tspan> <tspan x="351.53" y="1112.00" textLength="77.73" lengthAdjust="spacingAndGlyphs">Health</tspan> <tspan x="434.58" y="1112.00" textLength="150.30" lengthAdjust="spacingAndGlyphs">(1960–2024,</tspan> <tspan x="588.18" y="1112.00" textLength="104.84" lengthAdjust="spacingAndGlyphs">retrieved</tspan> <tspan x="698.66" y="1112.00" textLength="153.38" lengthAdjust="spacingAndGlyphs">2026-04-06).</tspan></text>
<text font-size="27" fill="#666666"><tspan x="38.74" y="1150.80" textLength="150.42" lengthAdjust="spacingAndGlyphs">GeoRank.org</tspan><tspan x="190.00" y="1150.80" textLength="126.70" lengthAdjust="spacingAndGlyphs">/population</tspan><tspan x="316.50" y="1150.80" textLength="101.04" lengthAdjust="spacingAndGlyphs">-density</tspan><tspan x="418.00" y="1150.80" textLength="117.36" lengthAdjust="spacingAndGlyphs">/cameroon</tspan><tspan x="534.00" y="1150.80" textLength="89.30" lengthAdjust="spacingAndGlyphs">/kiribati</tspan> <tspan x="629.20" y="1150.80" textLength="7.80" lengthAdjust="spacingAndGlyphs">|</tspan> <tspan x="641.82" y="1150.80" textLength="34.11" lengthAdjust="spacingAndGlyphs">CC</tspan> <tspan x="682.48" y="1150.80" textLength="32.60" lengthAdjust="spacingAndGlyphs">BY</tspan></text>
</svg>
</body>
</html>
